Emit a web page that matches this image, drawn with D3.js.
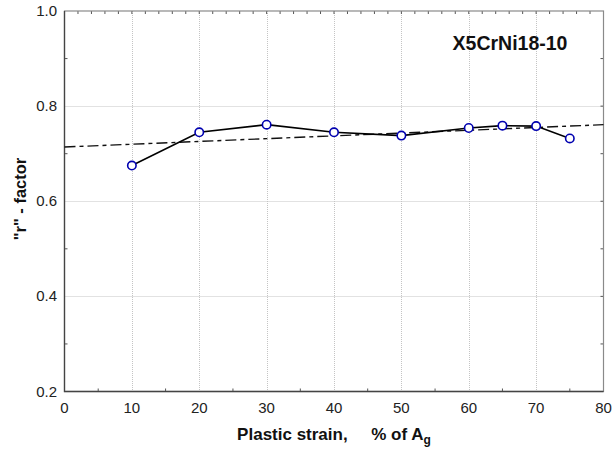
<!DOCTYPE html>
<html>
<head>
<meta charset="utf-8">
<script src="https://cdn.jsdelivr.net/npm/d3@7"></script>
<style>
  body { margin: 0; background: #fff; }
  svg { display: block; font-family: Arial, "Liberation Sans", sans-serif; }
</style>
</head>
<body>
<svg id="chart" width="613" height="453"></svg>
<script>
// Data
const strain = [10, 20, 30, 40, 50, 60, 65, 70, 75];
const rFactor = [0.675, 0.745, 0.761, 0.745, 0.738, 0.754, 0.759, 0.758, 0.732];
const trendX = [0, 80];
const trendY = [0.714, 0.761];
const xTicks = [0, 10, 20, 30, 40, 50, 60, 70, 80];
const yTicks = [0.2, 0.4, 0.6, 0.8, 1.0];
const annotation = "X5CrNi18-10";

const svg = d3.select("#chart");
const m = { left: 64.5, right: 603.5, top: 11, bottom: 391.5 };
const x = d3.scaleLinear().domain([0, 80]).range([m.left, m.right]);
const y = d3.scaleLinear().domain([0.2, 1.0]).range([m.bottom, m.top]);

// Gridlines
const grid = svg.append("g");
grid.selectAll(".gx").data(xTicks.slice(1, -1)).enter().append("line")
  .attr("x1", d => Math.round(x(d)) + 0.5).attr("x2", d => Math.round(x(d)) + 0.5)
  .attr("y1", m.top).attr("y2", m.bottom)
  .attr("stroke", "#c4c4c4").attr("stroke-width", 1).attr("stroke-dasharray", "1,1");
grid.selectAll(".gy").data(yTicks.slice(1, -1)).enter().append("line")
  .attr("y1", d => Math.round(y(d)) + 0.5).attr("y2", d => Math.round(y(d)) + 0.5)
  .attr("x1", m.left).attr("x2", m.right)
  .attr("stroke", "#c4c4c4").attr("stroke-width", 1).attr("stroke-dasharray", "1,1");

// Minor ticks
const ticks = svg.append("g").attr("stroke", "#555").attr("stroke-width", 1);
ticks.selectAll(".tt").data(d3.range(2, 80, 2)).enter().append("line")
  .attr("x1", d => x(d)).attr("x2", d => x(d)).attr("y1", m.top).attr("y2", m.top + 3);
ticks.selectAll(".tb").data(d3.range(5, 80, 10)).enter().append("line")
  .attr("x1", d => x(d)).attr("x2", d => x(d)).attr("y1", m.bottom).attr("y2", m.bottom - 3);
ticks.selectAll(".tl").data(d3.range(0.3, 1.0, 0.2)).enter().append("line")
  .attr("y1", d => y(d)).attr("y2", d => y(d)).attr("x1", m.left).attr("x2", m.left + 3);
ticks.selectAll(".tr").data(d3.range(0.3, 1.0, 0.1)).enter().append("line")
  .attr("y1", d => y(d)).attr("y2", d => y(d)).attr("x1", m.right).attr("x2", m.right - 3);

// Frame
svg.append("rect").attr("x", m.left).attr("y", m.top)
  .attr("width", m.right - m.left).attr("height", m.bottom - m.top)
  .attr("fill", "none").attr("stroke", "#8a8a8a").attr("stroke-width", 1.2);
svg.append("path")
  .attr("d", `M${m.left},${m.top}V${m.bottom}H${m.right}`)
  .attr("fill", "none").attr("stroke", "#444").attr("stroke-width", 1.3);

// Tick labels
svg.append("g").selectAll("text").data(xTicks).enter().append("text")
  .attr("x", d => x(d)).attr("y", 413)
  .attr("text-anchor", "middle").attr("font-size", 15).attr("fill", "#222")
  .text(d => d);
svg.append("g").selectAll("text").data(yTicks).enter().append("text")
  .attr("x", 57).attr("y", d => y(d) + 5)
  .attr("text-anchor", "end").attr("font-size", 15).attr("fill", "#222")
  .text(d => d.toFixed(1));

// Trend line
const lineGen = d3.line().x(d => x(d[0])).y(d => y(d[1]));
svg.append("path")
  .datum(trendX.map((d, i) => [d, trendY[i]]))
  .attr("d", lineGen)
  .attr("fill", "none").attr("stroke", "#111").attr("stroke-width", 1.4)
  .attr("stroke-dasharray", "11,4,4,4");

// Data line
svg.append("path")
  .datum(strain.map((d, i) => [d, rFactor[i]]))
  .attr("d", lineGen)
  .attr("fill", "none").attr("stroke", "#000").attr("stroke-width", 1.6);

// Markers
svg.append("g").selectAll("circle").data(strain.map((d, i) => [d, rFactor[i]])).enter()
  .append("circle")
  .attr("cx", d => x(d[0])).attr("cy", d => y(d[1])).attr("r", 4.2)
  .attr("fill", "#fff").attr("stroke", "#0000b0").attr("stroke-width", 1.6);

// Annotation
svg.append("text").attr("x", 510).attr("y", 50)
  .attr("text-anchor", "middle").attr("font-size", 19.5).attr("font-weight", "bold")
  .attr("fill", "#111").text(annotation);

// Axis titles
const xt = svg.append("text").attr("x", 334).attr("y", 440)
  .attr("text-anchor", "middle").attr("font-size", 17).attr("font-weight", "bold").attr("fill", "#111")
  .attr("xml:space", "preserve").style("white-space", "pre");
xt.append("tspan").text("Plastic strain,     % of A");
xt.append("tspan").attr("font-size", 12).attr("dy", 4).text("g");

svg.append("text")
  .attr("transform", "translate(26,199) rotate(-90)")
  .attr("text-anchor", "middle").attr("font-size", 16.5).attr("font-weight", "bold").attr("fill", "#111")
  .text('"r" - factor');
</script>
</body>
</html>
